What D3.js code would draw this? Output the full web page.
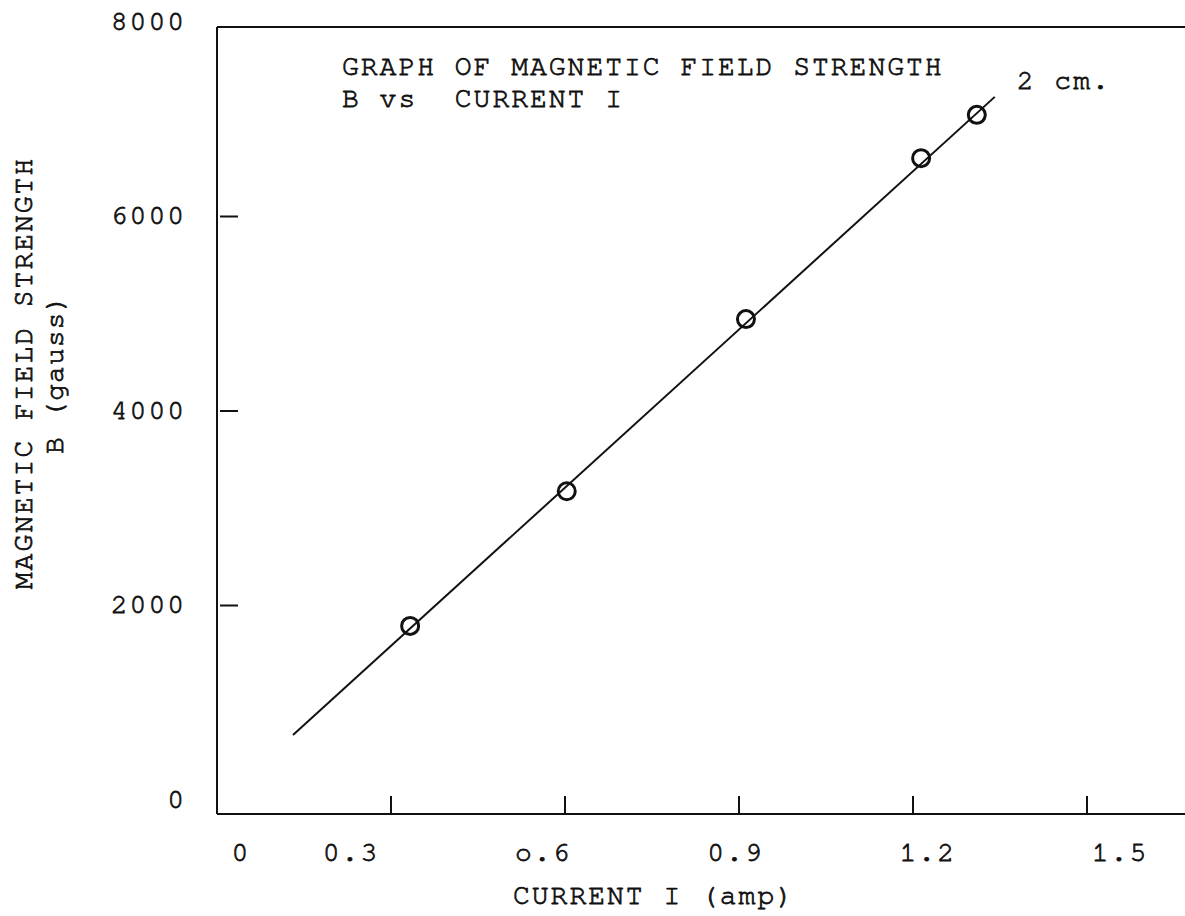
<!DOCTYPE html>
<html>
<head>
<meta charset="utf-8">
<script src="https://cdn.jsdelivr.net/npm/d3@7/dist/d3.min.js"></script>
<style>
  html, body { margin: 0; padding: 0; background: #fff; }
  svg { display: block; }
  text {
    font-family: "Nimbus Mono PS", "Nimbus Mono L", "FreeMono", "Liberation Mono", "DejaVu Sans Mono", monospace;
    fill: #111; stroke: #111; stroke-width: 0.8px; white-space: pre;
  }
</style>
</head>
<body>
<svg id="chart" width="1185" height="916"></svg>
<script>
// Measured readings: coil current (amp) and field strength B (gauss)
const current = [0.333, 0.603, 0.912, 1.214, 1.31];
const field = [1790, 3175, 4945, 6600, 7045];

// Hand-ruled best-fit line, end points
const fitCurrent = [0.131, 1.341];
const fitField = [668, 7230];

// Axis ticks and their typed labels
const xTickValues = [0, 0.3, 0.6, 0.9, 1.2, 1.5];
const xTickLabels = ["0", "0.3", "o.6", "0.9", "1.2", "1.5"];
const yTickValues = [0, 2000, 4000, 6000, 8000];
const yTickLabels = ["0", "2000", "4000", "6000", "8000"];

const titleLines = ["GRAPH OF MAGNETIC FIELD STRENGTH", "B vs  CURRENT I"];
const lineNote = "2 cm.";
const xTitle = "CURRENT I (amp)";
const yTitleLines = ["MAGNETIC FIELD STRENGTH", "B (gauss)"];

const W = 1185, H = 916;
const svg = d3.select("#chart");
svg.append("rect").attr("width", W).attr("height", H).attr("fill", "#fff");

const x = d3.scaleLinear().domain([0, 1.5]).range([217, 1087]);
const y = d3.scaleLinear().domain([0, 8000]).range([800, 22]);

const frameTop = 27;
const frameBottom = 814;
const ink = "#111";
// typewriter pitch: 0.6em advance plus spacing gives ~18.8px per character
const typeSize = 28;
const typeSpacing = 2;

// Frame: top rule, left axis, bottom axis
const frame = svg.append("g").attr("stroke", ink).attr("stroke-width", 2).attr("fill", "none");
frame.append("line").attr("x1", x(0)).attr("x2", W).attr("y1", frameTop).attr("y2", frameTop);
frame.append("line").attr("x1", x(0)).attr("x2", x(0)).attr("y1", frameTop).attr("y2", frameBottom);
frame.append("line").attr("x1", x(0)).attr("x2", W).attr("y1", frameBottom).attr("y2", frameBottom);

// Short inward tick marks
frame.selectAll(".xt").data(xTickValues.filter(d => d > 0)).join("line")
  .attr("x1", d => x(d)).attr("x2", d => x(d))
  .attr("y1", frameBottom).attr("y2", frameBottom - 18);
frame.selectAll(".yt").data(yTickValues.filter(d => d > 0 && d < 8000)).join("line")
  .attr("x1", x(0) + 3).attr("x2", x(0) + 21)
  .attr("y1", d => y(d)).attr("y2", d => y(d));

// Typed labels sit on a slightly wider pitch than the ruled ticks
const xLabelPos = d3.scaleLinear().domain([0.3, 1.5]).range([x(0.3) - 40, x(1.5) + 33]);
svg.append("g").selectAll("text").data(xTickValues).join("text")
  .attr("x", d => d === 0 ? x(0) + 24 : xLabelPos(d))
  .attr("y", 861)
  .attr("text-anchor", "middle")
  .attr("font-size", typeSize)
  .attr("letter-spacing", typeSpacing)
  .text((d, i) => xTickLabels[i]);

svg.append("g").selectAll("text").data(yTickValues).join("text")
  .attr("x", 186)
  .attr("y", d => y(d))
  .attr("dy", "0.28em")
  .attr("text-anchor", "end")
  .attr("font-size", typeSize)
  .attr("letter-spacing", typeSpacing)
  .text((d, i) => yTickLabels[i]);

// Axis titles
svg.append("text")
  .attr("x", 513).attr("y", 904)
  .attr("font-size", typeSize)
  .attr("letter-spacing", typeSpacing)
  .text(xTitle);

svg.append("text")
  .attr("transform", "translate(32,373) rotate(-90)")
  .attr("text-anchor", "middle")
  .attr("font-size", typeSize)
  .attr("letter-spacing", typeSpacing)
  .text(yTitleLines[0]);
svg.append("text")
  .attr("transform", "translate(63,374) rotate(-90)")
  .attr("text-anchor", "middle")
  .attr("font-size", typeSize)
  .attr("letter-spacing", 1)
  .text(yTitleLines[1]);

// Chart title
svg.append("g").selectAll("text").data(titleLines).join("text")
  .attr("x", 342)
  .attr("y", (d, i) => 75 + i * 32)
  .attr("font-size", typeSize)
  .attr("letter-spacing", typeSpacing)
  .text(d => d);

// Fitted line
const fitData = fitCurrent.map((c, i) => [c, fitField[i]]);
svg.append("path")
  .datum(fitData)
  .attr("fill", "none")
  .attr("stroke", ink)
  .attr("stroke-width", 2)
  .attr("d", d3.line().x(d => x(d[0])).y(d => y(d[1])));

// Note at the upper end of the line
svg.append("text")
  .attr("x", x(fitCurrent[1]) + 22)
  .attr("y", 89)
  .attr("font-size", typeSize)
  .attr("letter-spacing", typeSpacing)
  .text(lineNote);

// Measured points, drawn as open circles
svg.append("g").selectAll("circle").data(current).join("circle")
  .attr("cx", d => x(d))
  .attr("cy", (d, i) => y(field[i]))
  .attr("r", 8.5)
  .attr("fill", "none")
  .attr("stroke", ink)
  .attr("stroke-width", 3);
</script>
</body>
</html>
